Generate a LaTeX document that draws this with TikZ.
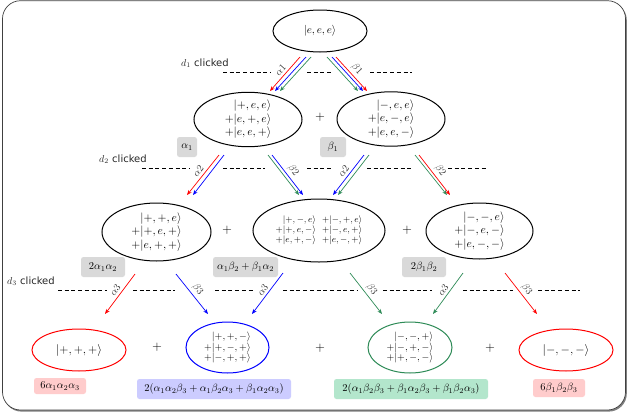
\RequirePackage{fix-cm}
\documentclass[tikz,border=0pt]{standalone}
\usepackage{fontspec}
\newfontfamily\dvs{DejaVu Sans}
\usetikzlibrary{shapes.geometric,arrows.meta}
\definecolor{sg}{RGB}{46,139,87}
\definecolor{boxgray}{RGB}{217,217,217}
\definecolor{boxpink}{RGB}{255,204,204}
\definecolor{boxlav}{RGB}{204,204,255}
\definecolor{boxmint}{RGB}{179,230,204}
\begin{document}
\begin{tikzpicture}[x=1pt,y=-1pt,
  ell/.style={ellipse, draw, line width=1pt, inner sep=0pt},
  st/.style={font=\fontsize{11.5}{13.5}\selectfont, align=right},
  sm/.style={font=\fontsize{10}{10.3}\selectfont, align=right},
  tagbox/.style={rounded corners=2.5pt, inner sep=0pt, minimum height=20pt, font=\fontsize{10.5}{12}\selectfont},
  arr/.style={-{Stealth[length=5pt,width=4pt]}, line width=0.7pt},
  lab/.style={font=\fontsize{10}{11}\selectfont, inner sep=2.5pt, text=black!80},
  dl/.style={dash pattern=on 4pt off 2.7pt, line width=0.6pt},
  plus/.style={font=\fontsize{13}{14}\selectfont},
  dlab/.style={anchor=west, font=\fontsize{10}{12}\selectfont, inner sep=0pt, text=black!85}
]
\useasboundingbox (0,0) rectangle (627,418);
% frame with shadow
\fill[black!50, rounded corners=18pt] (3.5,2.2) rectangle (626.8,411.6);
\filldraw[fill=white, draw=black!75, line width=0.7pt, rounded corners=18pt] (2.5,0.7) rectangle (625.5,410);

% dashed lines
\draw[dl] (223,72) -- (270,72) (307,72) -- (332,72) (370,72) -- (412,72);
\draw[dl] (142,168) -- (190,168) (223,168) -- (265,168) (307,168) -- (332,168) (367,168) -- (413,168) (448,168) -- (488,168);
\draw[dl] (58,290) -- (107,290) (133,290) -- (175,290) (215,290) -- (253,290) (283,290) -- (357,290) (383,290) -- (432,290) (463,290) -- (513,290) (538,290) -- (580,290);

\node[dlab] (d1) at (181,63) {$d_1$ {\dvs clicked}};
\node[dlab] (d2) at (99,159) {$d_2$ {\dvs clicked}};
\node[dlab] (d3) at (7,281) {$d_3$ {\dvs clicked}};

% level 0
\node[ell, minimum width=94pt, minimum height=42pt, font=\fontsize{11}{13}\selectfont] (top) at (320,31) {$|e,e,e\rangle$};

% level 1
\node[ell, minimum width=108pt, minimum height=53pt, st] (la) at (248,119.5) {$|+,e,e\rangle$\\$+|e,+,e\rangle$\\$+|e,e,+\rangle$};
\node[plus] (p1) at (320,117) {$+$};
\node[ell, minimum width=108pt, minimum height=52pt, st] (lb) at (391,119) {$|-,e,e\rangle$\\$+|e,-,e\rangle$\\$+|e,e,-\rangle$};
\node[tagbox, fill=boxgray, minimum width=20pt] (ta1) at (187,147) {$\alpha_1$};
\node[tagbox, fill=boxgray, minimum width=26pt] (tb1) at (333,147) {$\beta_1$};

% level 2
\node[ell, minimum width=109pt, minimum height=58pt, st] (ma) at (156.5,232) {$|+,+,e\rangle$\\$+|+,e,+\rangle$\\$+|e,+,+\rangle$};
\node[plus] (p2) at (227,230) {$+$};
\node[ell, minimum width=132pt, minimum height=63pt, font=\fontsize{9}{10.3}\selectfont] (mb) at (319,230.5)
  {$\begin{array}{@{}r@{\hspace{6pt}}r@{}}
    |+,-,e\rangle & +|-,+,e\rangle\\
    +|+,e,-\rangle & +|-,e,+\rangle\\
    +|e,+,-\rangle & +|e,-,+\rangle
  \end{array}$};
\node[plus] (p3) at (407,230) {$+$};
\node[ell, minimum width=107pt, minimum height=56pt, st] (mc) at (479.5,231) {$|-,-,e\rangle$\\$+|-,e,-\rangle$\\$+|e,-,-\rangle$};
\node[tagbox, fill=boxgray, minimum width=44pt] (tm1) at (103,267) {$2\alpha_1\alpha_2$};
\node[tagbox, fill=boxgray, minimum width=65pt] (tm2) at (245.5,267) {$\alpha_1\beta_2+\beta_1\alpha_2$};
\node[tagbox, fill=boxgray, minimum width=44pt] (tm3) at (424,267) {$2\beta_1\beta_2$};

% level 3
\node[ell, draw=red, minimum width=94pt, minimum height=42pt, font=\fontsize{12}{14}\selectfont] (ba) at (79,350) {$|+,+,+\rangle$};
\node[plus] (p4) at (157,347) {$+$};
\node[ell, draw=blue, minimum width=83pt, minimum height=51pt, sm] (bb) at (227.5,347.5) {$|+,+,-\rangle$\\$+|+,-,+\rangle$\\$+|-,+,+\rangle$};
\node[plus] (p5) at (320,348) {$+$};
\node[ell, draw=sg, minimum width=84pt, minimum height=51pt, sm] (bc) at (410,347.5) {$|-,-,+\rangle$\\$+|-,+,-\rangle$\\$+|+,-,-\rangle$};
\node[plus] (p6) at (490,348) {$+$};
\node[ell, draw=red, minimum width=94pt, minimum height=42pt, font=\fontsize{12}{14}\selectfont] (bd) at (566,350) {$|-,-,-\rangle$};
\node[tagbox, fill=boxpink, minimum width=52pt, minimum height=16pt] (tb1x) at (60,386) {$6\alpha_1\alpha_2\alpha_3$};
\node[tagbox, fill=boxlav, minimum width=154pt] (tb2x) at (214,389) {$2(\alpha_1\alpha_2\beta_3+\alpha_1\beta_2\alpha_3+\beta_1\alpha_2\alpha_3)$};
\node[tagbox, fill=boxmint, minimum width=154pt] (tb3x) at (411,389) {$2(\alpha_1\beta_2\beta_3+\beta_1\alpha_2\beta_3+\beta_1\beta_2\alpha_3)$};
\node[tagbox, fill=boxpink, minimum width=52pt, minimum height=18pt] (tb4x) at (559,388) {$6\beta_1\beta_2\beta_3$};

% arrows level 0 -> 1
\draw[arr,red]  ([shift={(-20,26)}]top.center) -- node[lab,sloped,above]{$\alpha1$} ([shift={(22,-28.5)}]la.center);
\draw[arr,blue] ([shift={(-14,26)}]top.center) -- ([shift={(27,-28.5)}]la.center);
\draw[arr,sg]   ([shift={(-9,26)}]top.center) -- ([shift={(32,-28.5)}]la.center);
\draw[arr,sg]   ([shift={(7,26)}]top.center) -- ([shift={(-33,-28)}]lb.center);
\draw[arr,blue] ([shift={(12,26)}]top.center) -- ([shift={(-28,-28)}]lb.center);
\draw[arr,red]  ([shift={(16,26)}]top.center) -- node[lab,sloped,above]{$\beta1$} ([shift={(-24,-28)}]lb.center);

% arrows level 1 -> 2
\draw[arr,red]  ([shift={(-29,35.5)}]la.center) -- node[lab,sloped,above]{$\alpha2$} ([shift={(30.5,-37)}]ma.center);
\draw[arr,blue] ([shift={(-24,35.5)}]la.center) -- ([shift={(36.5,-37)}]ma.center);
\draw[arr,sg]   ([shift={(20,35.5)}]la.center) -- ([shift={(-20,-35.5)}]mb.center);
\draw[arr,blue] ([shift={(24,35.5)}]la.center) -- node[lab,sloped,above]{$\beta2$} ([shift={(-16,-35.5)}]mb.center);
\draw[arr,blue] ([shift={(-27,36)}]lb.center) -- node[lab,sloped,above]{$\alpha2$} ([shift={(14,-35.5)}]mb.center);
\draw[arr,sg]   ([shift={(-22,36)}]lb.center) -- ([shift={(19,-35.5)}]mb.center);
\draw[arr,sg]   ([shift={(24,36)}]lb.center) -- ([shift={(-32.5,-36)}]mc.center);
\draw[arr,red]  ([shift={(28,36)}]lb.center) -- node[lab,sloped,above]{$\beta2$} ([shift={(-29.5,-36)}]mc.center);

% arrows level 2 -> 3
\draw[arr,red]  ([shift={(-21.5,42)}]ma.center) -- node[lab,sloped,above]{$\alpha3$} ([shift={(26,-36)}]ba.center);
\draw[arr,blue] ([shift={(19.5,42)}]ma.center) -- node[lab,sloped,above]{$\beta3$} ([shift={(-19.5,-33.5)}]bb.center);
\draw[arr,blue] ([shift={(-36,42.5)}]mb.center) -- node[lab,sloped,above]{$\alpha3$} ([shift={(24.5,-33.5)}]bb.center);
\draw[arr,sg]   ([shift={(31,42.5)}]mb.center) -- node[lab,sloped,above]{$\beta3$} ([shift={(-28,-33.5)}]bc.center);
\draw[arr,sg]   ([shift={(-16.5,42)}]mc.center) -- node[lab,sloped,above]{$\alpha3$} ([shift={(23,-33.5)}]bc.center);
\draw[arr,red]  ([shift={(25.5,42)}]mc.center) -- node[lab,sloped,above]{$\beta3$} ([shift={(-29,-36)}]bd.center);
\end{tikzpicture}
\end{document}
